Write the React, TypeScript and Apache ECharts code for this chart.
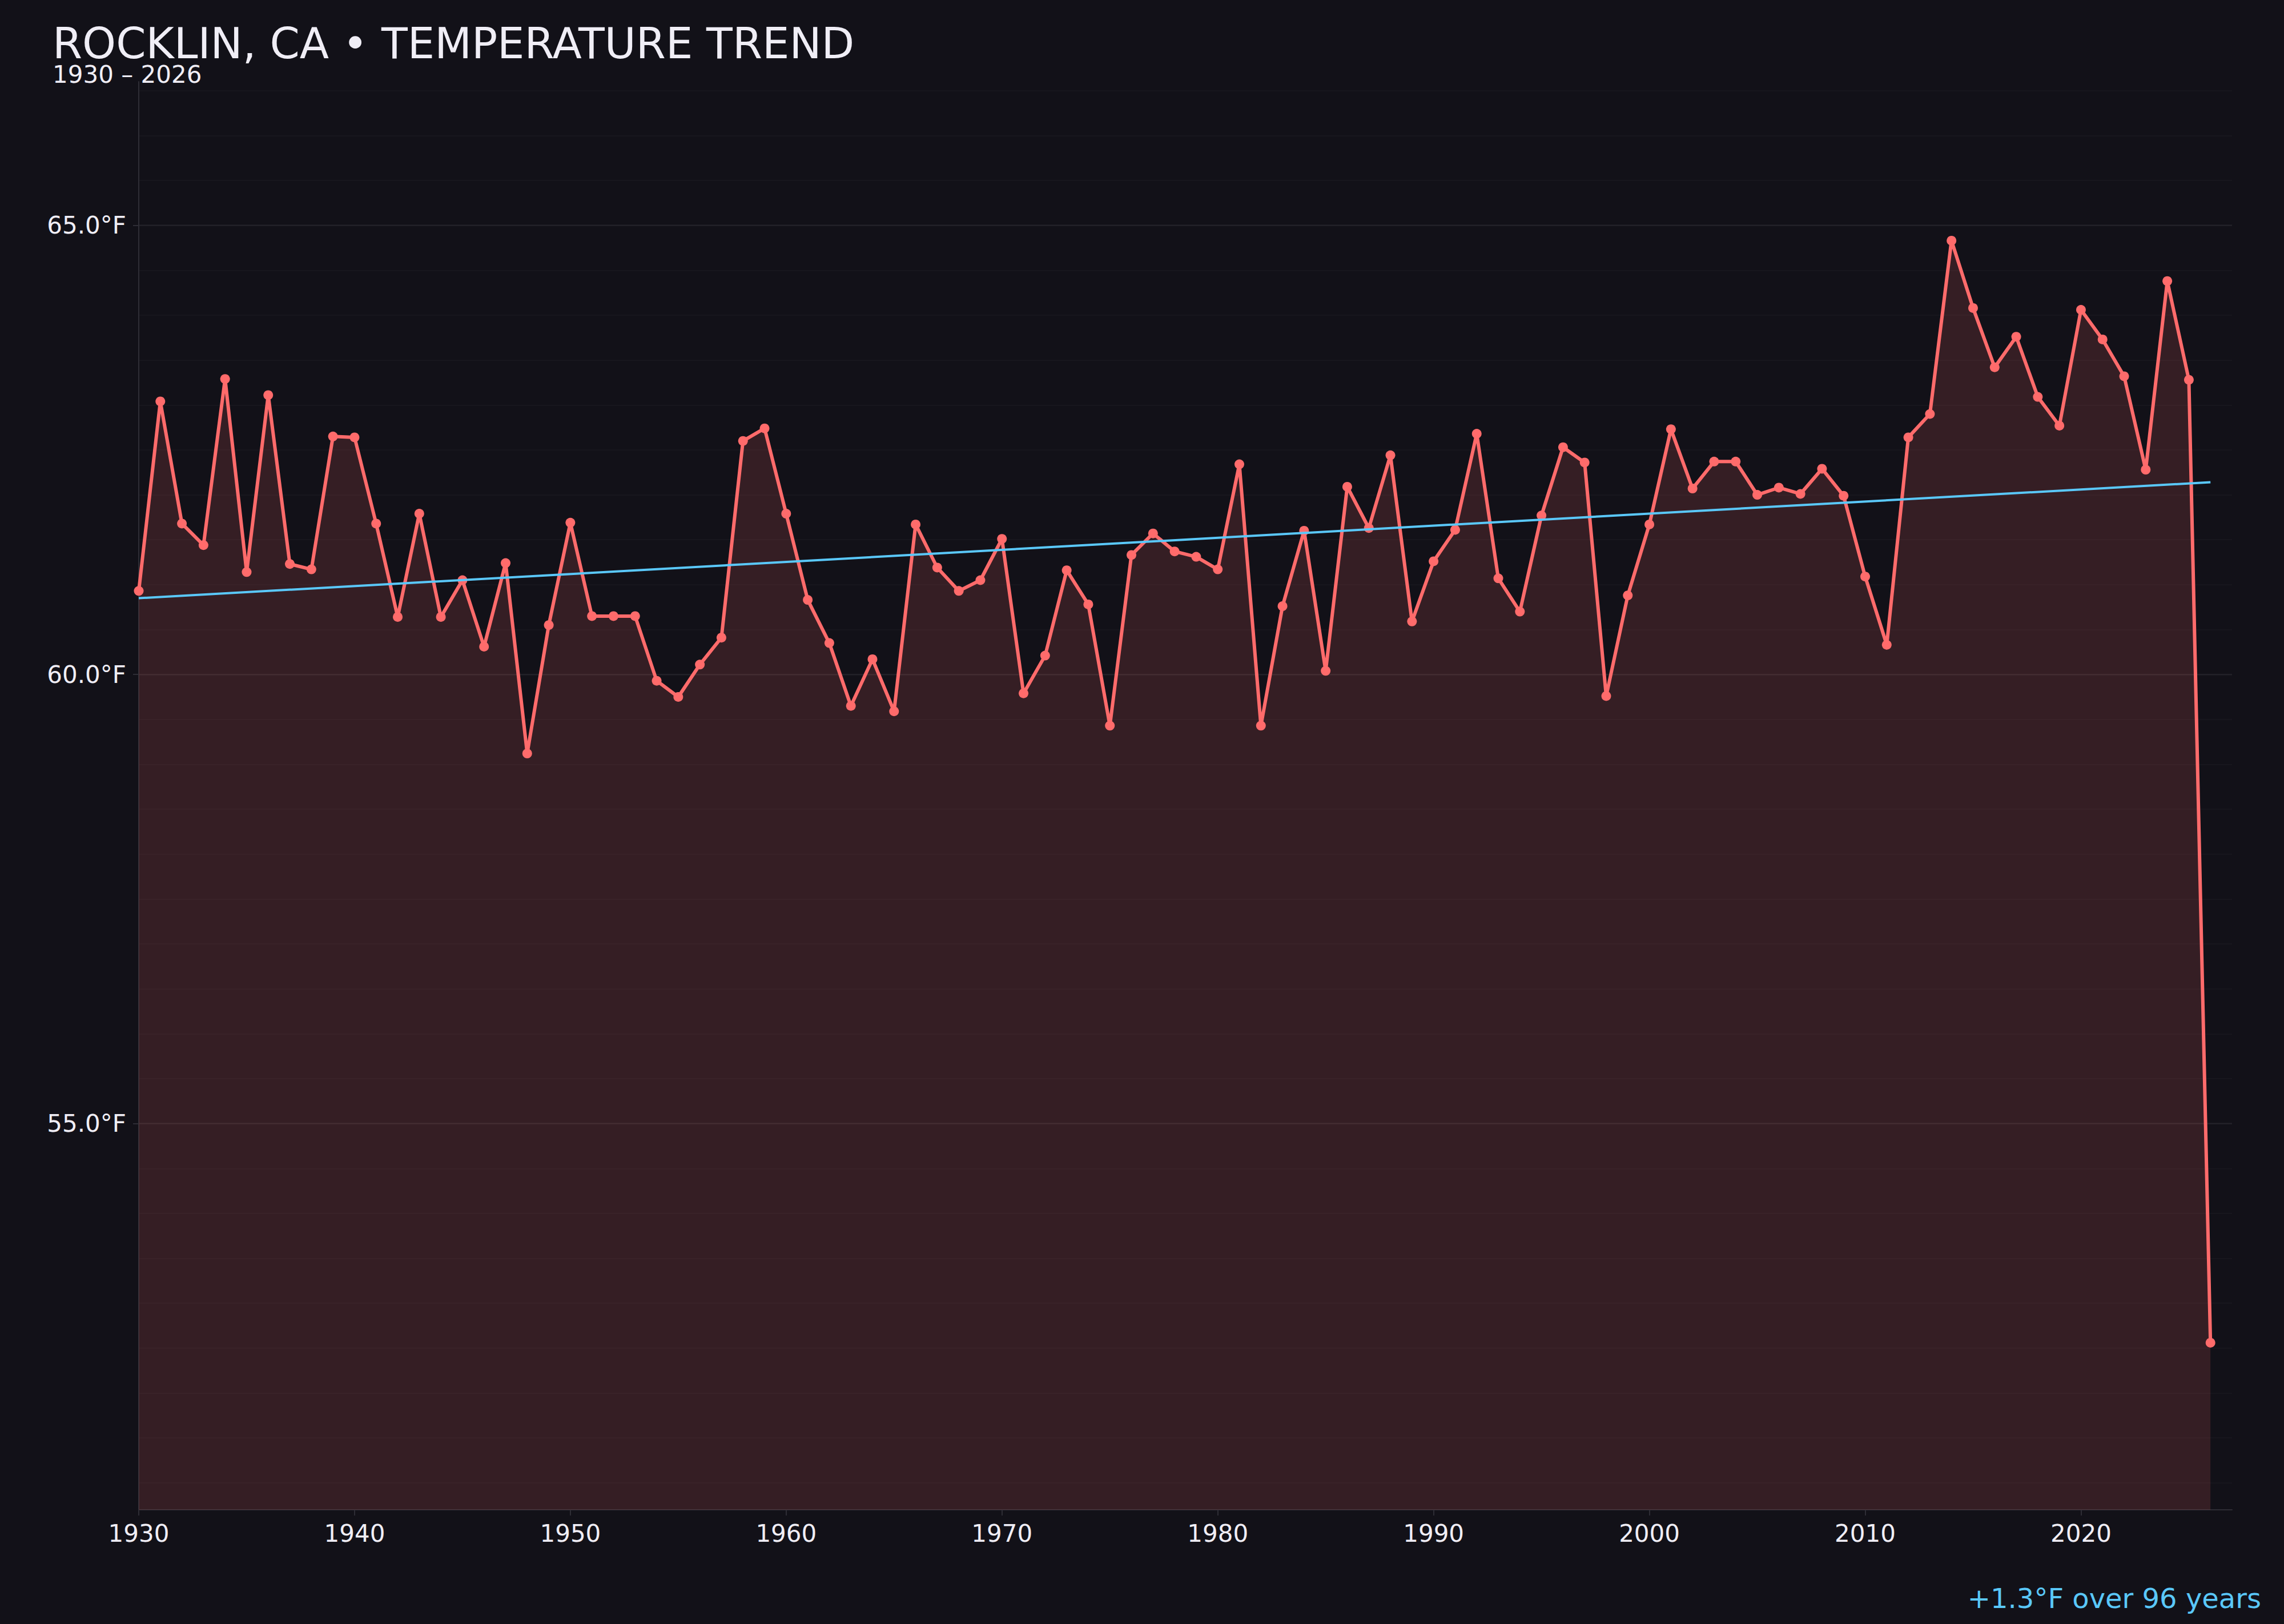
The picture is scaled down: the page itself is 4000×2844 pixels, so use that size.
import React, { useEffect, useRef } from "react";
import * as echarts from "echarts";

// ---- Data ----
const START_YEAR = 1930;
const years: number[] = Array.from({ length: 97 }, (_, i) => START_YEAR + i);
const temps: number[] = [
  60.93, 63.04, 61.68, 61.44, 63.29, 61.14, 63.11, 61.23, 61.17, 62.65,
  62.64, 61.68, 60.64, 61.79, 60.64, 61.05, 60.31, 61.24, 59.12, 60.55,
  61.69, 60.65, 60.65, 60.65, 59.93, 59.75, 60.11, 60.41, 62.6, 62.74,
  61.79, 60.83, 60.35, 59.65, 60.17, 59.59, 61.67, 61.19, 60.93, 61.05,
  61.51, 59.79, 60.21, 61.16, 60.78, 59.43, 61.33, 61.57, 61.37, 61.31,
  61.17, 62.34, 59.43, 60.76, 61.6, 60.04, 62.09, 61.63, 62.44, 60.59,
  61.26, 61.61, 62.68, 61.07, 60.7, 61.77, 62.53, 62.36, 59.76, 60.88,
  61.67, 62.73, 62.07, 62.37, 62.37, 62.0, 62.08, 62.01, 62.29, 61.99,
  61.09, 60.33, 62.64, 62.9, 64.83, 64.08, 63.42, 63.76, 63.09, 62.77,
  64.06, 63.73, 63.32, 62.28, 64.38, 63.28, 52.56,
];
const yTickLabels: number[] = [55, 60, 65];
const xTickLabels: number[] = [1930, 1940, 1950, 1960, 1970, 1980, 1990, 2000, 2010, 2020];
const Y_MIN = 50.7;
const Y_MAX = 66.6;
const X_MIN = 1930;
const X_MAX = 2027;
const TITLE = "ROCKLIN, CA • TEMPERATURE TREND";
const SUBTITLE = "1930 – 2026";
const TREND_NOTE = "+1.3°F over 96 years";

// Least-squares linear trend over all years
function trendLine(xs: number[], ys: number[]) {
  const n = xs.length;
  let sx = 0, sy = 0, sxx = 0, sxy = 0;
  for (let i = 0; i < n; i++) {
    sx += xs[i]; sy += ys[i]; sxx += xs[i] * xs[i]; sxy += xs[i] * ys[i];
  }
  const b = (n * sxy - sx * sy) / (n * sxx - sx * sx);
  const a = (sy - b * sx) / n;
  return { a, b };
}

const BG = "#121118";
const LINE = "#ff6b6b";
const TREND = "#5ac8fa";
const TEXT = "#f0eef6";
const FONT = "DejaVu Sans";

export default function App() {
  const ref = useRef<HTMLDivElement>(null);
  useEffect(() => {
    if (!ref.current) return;
    const chart = echarts.init(ref.current, null, { renderer: "svg" });
    const { a, b } = trendLine(years, temps);
    const first = years[0];
    const last = years[years.length - 1];
    const trendData = [
      [first, a + b * first],
      [last, a + b * last],
    ];
    const mainData = years.map((y, i) => [y, temps[i]]);

    chart.setOption({
      animation: false,
      backgroundColor: BG,
      textStyle: { fontFamily: FONT },
      grid: { left: 243, right: 91, top: 143, bottom: 200, containLabel: false },
      graphic: [
        {
          type: "text",
          left: 92,
          top: 38,
          style: { text: TITLE, fill: TEXT, font: `75px "${FONT}"` },
        },
        {
          type: "text",
          left: 92,
          top: 109,
          style: { text: SUBTITLE, fill: TEXT, font: `42px "${FONT}"` },
        },
        {
          type: "text",
          right: 40,
          top: 2775,
          style: { text: TREND_NOTE, fill: TREND, font: `48px "${FONT}"` },
        },
      ],
      xAxis: {
        type: "value",
        min: X_MIN,
        max: X_MAX,
        interval: 10,
        axisLine: { show: true, onZero: false, lineStyle: { color: "#2e2d35", width: 2 } },
        axisTick: { show: true, length: 10, lineStyle: { color: "#2e2d35", width: 2 }, customValues: xTickLabels },
        axisLabel: {
          color: TEXT,
          fontSize: 42,
          fontFamily: FONT,
          margin: 20,
          customValues: xTickLabels,
          formatter: (v: number) => String(v),
        },
        splitLine: { show: false },
      },
      yAxis: [
        {
          type: "value",
          min: Y_MIN,
          max: Y_MAX,
          minInterval: 5,
          maxInterval: 5,
          position: "left",
          axisLine: { show: true, lineStyle: { color: "#2e2d35", width: 2 } },
          axisTick: { show: true, length: 10, lineStyle: { color: "#2e2d35", width: 2 }, customValues: yTickLabels },
          axisLabel: {
            color: TEXT,
            fontSize: 42,
            fontFamily: FONT,
            margin: 22,
            customValues: yTickLabels,
            formatter: (v: number) => v.toFixed(1) + "°F",
          },
          splitLine: {
            show: true,
            showMinLine: true,
            showMaxLine: true,
            lineStyle: { color: "rgba(255,255,255,0.055)", width: 2.5 },
          },
        },
        {
          type: "value",
          min: Y_MIN,
          max: Y_MAX,
          minInterval: 0.5,
          maxInterval: 0.5,
          position: "left",
          axisLine: { show: false },
          axisTick: { show: false },
          axisLabel: { show: false },
          splitLine: {
            show: true,
            showMinLine: false,
            showMaxLine: false,
            lineStyle: { color: "rgba(255,255,255,0.025)", width: 2 },
          },
        },
      ],
      series: [
        {
          type: "line",
          data: mainData,
          yAxisIndex: 0,
          symbol: "circle",
          symbolSize: 17,
          showAllSymbol: true,
          lineStyle: { color: LINE, width: 6 },
          itemStyle: { color: LINE },
          areaStyle: { color: LINE, opacity: 0.15, origin: "start" },
          z: 3,
        },
        {
          type: "line",
          data: trendData,
          yAxisIndex: 0,
          symbol: "none",
          lineStyle: { color: TREND, width: 4 },
          z: 4,
        },
      ],
    });
    return () => chart.dispose();
  }, []);
  return (
    <div
      ref={ref}
      style={{ position: "absolute", left: 0, top: 0, width: 4000, height: 2844 }}
    />
  );
}
